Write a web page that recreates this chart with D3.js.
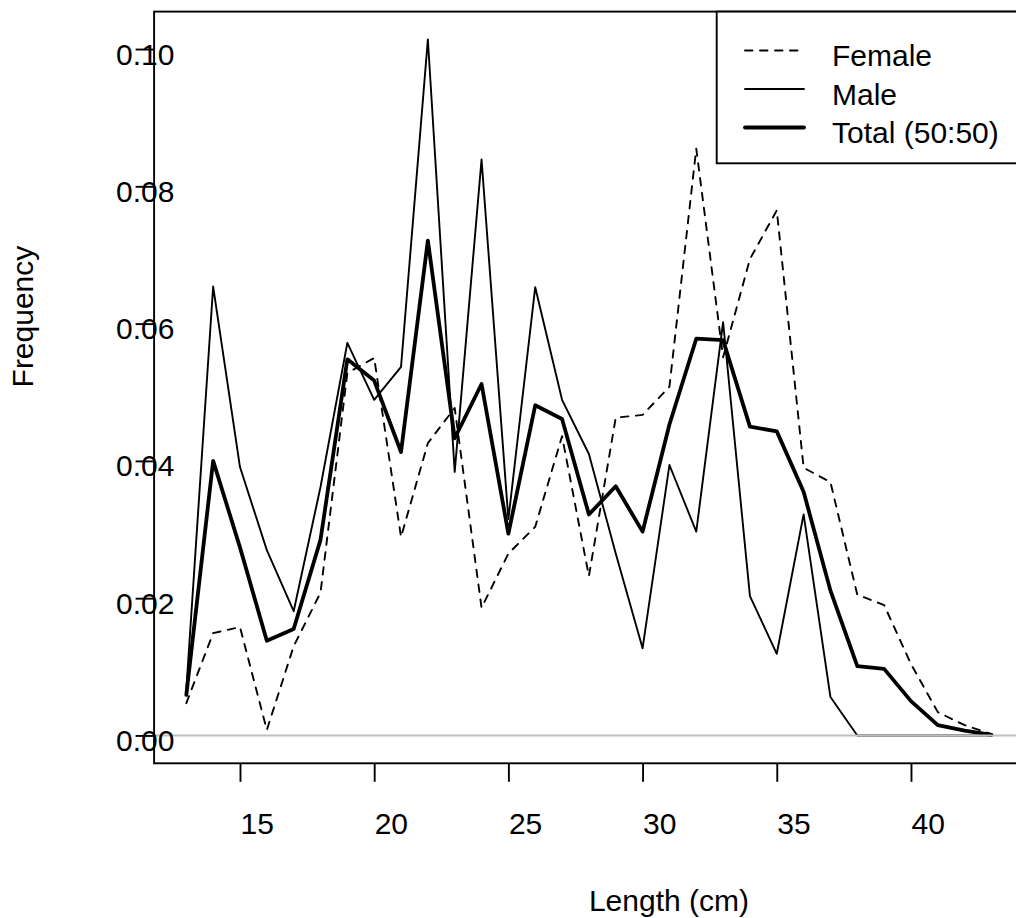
<!DOCTYPE html>
<html>
<head>
<script src="https://cdnjs.cloudflare.com/ajax/libs/d3/7.8.5/d3.min.js"></script>
<title>Length frequency</title>
<style>
  body { margin: 0; background: #fff; }
  svg { font-family: "Liberation Sans", Arial, sans-serif; }
</style>
</head>
<body>
<script>
// length classes (cm)
const lengths = [13, 14, 15, 16, 17, 18, 19, 20, 21, 22, 23, 24, 25, 26, 27, 28,
                 29, 30, 31, 32, 33, 34, 35, 36, 37, 38, 39, 40, 41, 42, 43];

const female = [0.0047, 0.0149, 0.0158, 0.0008, 0.0130, 0.0208, 0.0528, 0.0550,
                0.0289, 0.0426, 0.0477, 0.0186, 0.0265, 0.0304, 0.0436, 0.0232,
                0.0463, 0.0467, 0.0508, 0.0855, 0.0551, 0.0694, 0.0765, 0.0390,
                0.0369, 0.0205, 0.0190, 0.0104, 0.0034, 0.0015, 0.0002];

const male = [0.0067, 0.0654, 0.0391, 0.0270, 0.0181, 0.0362, 0.0572, 0.0489,
              0.0537, 0.1014, 0.0384, 0.0839, 0.0315, 0.0653, 0.0489, 0.0410,
              0.0265, 0.0127, 0.0394, 0.0297, 0.0602, 0.0203, 0.0119, 0.0322,
              0.0056, 0, 0, 0, 0, 0, 0];

const total = [0.0059, 0.0400, 0.0274, 0.0138, 0.0155, 0.0285, 0.0548, 0.0517,
               0.0413, 0.0721, 0.0433, 0.0512, 0.0294, 0.0481, 0.0461, 0.0322,
               0.0363, 0.0297, 0.0453, 0.0578, 0.0576, 0.0450, 0.0443, 0.0355,
               0.0211, 0.0101, 0.0097, 0.0050, 0.0015, 0.0007, 0.0001];

const xTicks = [15, 20, 25, 30, 35, 40];
const yTicks = [0, 0.02, 0.04, 0.06, 0.08, 0.10];
const legendLabels = ["Female", "Male", "Total (50:50)"];

const w = 1016;
const h = 918;
const pLeft = 154.1, pRight = 1023.7, pTop = 11.6, pBottom = 763.3;
const lw = 1.9;

// R style 4% extension of the data range
const xExt = d3.extent(lengths);
const xPad = (xExt[1] - xExt[0]) * 0.04;
const yMax = d3.max([female, male, total].flat());
const yPad = yMax * 0.04;

const xScale = d3.scaleLinear()
  .domain([xExt[0] - xPad, xExt[1] + xPad])
  .range([pLeft, pRight]);

const yScale = d3.scaleLinear()
  .domain([0 - yPad, yMax + yPad])
  .range([pBottom, pTop]);

const svg = d3.select("body")
  .append("svg")
  .attr("width", w)
  .attr("height", h);

svg.append("rect")
  .attr("width", w)
  .attr("height", h)
  .attr("fill", "#fff");

const line = (vals) => d3.line()
  .x((d, i) => xScale(lengths[i]))
  .y((d) => yScale(d))(vals);

const series = [
  { vals: female, width: lw, dash: "7.5,7.5" },
  { vals: male, width: lw, dash: null },
  { vals: total, width: lw * 2, dash: null }
];

series.forEach((s) => {
  svg.append("path")
    .attr("d", line(s.vals))
    .attr("fill", "none")
    .attr("stroke", "#000")
    .attr("stroke-width", s.width)
    .attr("stroke-dasharray", s.dash)
    .attr("stroke-linejoin", "round")
    .attr("stroke-linecap", "round");
});

// abline(h = 0, col = "gray")
svg.append("line")
  .attr("x1", pLeft)
  .attr("x2", pRight)
  .attr("y1", yScale(0))
  .attr("y2", yScale(0))
  .attr("stroke", "#bebebe")
  .attr("stroke-width", lw);

// axes
const xAxis = d3.axisBottom(xScale)
  .tickValues(xTicks)
  .tickSize(18.5)
  .tickFormat(d3.format("d"));

const yAxis = d3.axisLeft(yScale)
  .tickValues(yTicks)
  .tickSize(18.5)
  .tickFormat(d3.format(".2f"));

const gx = svg.append("g")
  .attr("transform", "translate(0," + pBottom + ")")
  .call(xAxis);
gx.select(".domain").remove();
gx.attr("font-size", 30).attr("font-family", null);
gx.selectAll(".tick line").attr("stroke-width", lw);
gx.selectAll(".tick text")
  .attr("fill", "#000")
  .attr("text-anchor", "start")
  .attr("dy", null)
  .attr("x", 0)
  .attr("y", 834 - pBottom);

const gy = svg.append("g")
  .attr("transform", "translate(" + pLeft + ",0)")
  .call(yAxis);
gy.select(".domain").remove();
gy.attr("font-size", 30).attr("font-family", null);
gy.selectAll(".tick line").attr("stroke-width", lw);
gy.selectAll(".tick text")
  .attr("fill", "#000")
  .attr("text-anchor", "start")
  .attr("dy", null)
  .attr("x", 116 - pLeft)
  .attr("y", 15);

// plot box
svg.append("rect")
  .attr("x", pLeft)
  .attr("y", pTop)
  .attr("width", pRight - pLeft)
  .attr("height", pBottom - pTop)
  .attr("fill", "none")
  .attr("stroke", "#000")
  .attr("stroke-width", lw);

// axis titles
svg.append("text")
  .attr("x", (pLeft + pRight) / 2)
  .attr("y", 911)
  .attr("font-size", 30)
  .text("Length (cm)");

svg.append("text")
  .attr("transform", "translate(33.3," + (pTop + pBottom) / 2 + ") rotate(-90)")
  .attr("font-size", 30)
  .text("Frequency");

// legend
const legend = svg.append("g");
legend.append("rect")
  .attr("x", 716.7)
  .attr("y", pTop)
  .attr("width", 400)
  .attr("height", 163.3 - pTop)
  .attr("fill", "#fff")
  .attr("stroke", "#000")
  .attr("stroke-width", lw);

const legendY = [50.5, 89, 127.5];
legendLabels.forEach((lab, i) => {
  legend.append("line")
    .attr("x1", 745)
    .attr("x2", 804)
    .attr("y1", legendY[i])
    .attr("y2", legendY[i])
    .attr("stroke", "#000")
    .attr("stroke-width", series[i].width)
    .attr("stroke-dasharray", series[i].dash)
    .attr("stroke-linecap", "round");
  legend.append("text")
    .attr("x", 832)
    .attr("y", legendY[i] + 15.5)
    .attr("font-size", 30)
    .text(lab);
});
</script>
</body>
</html>
